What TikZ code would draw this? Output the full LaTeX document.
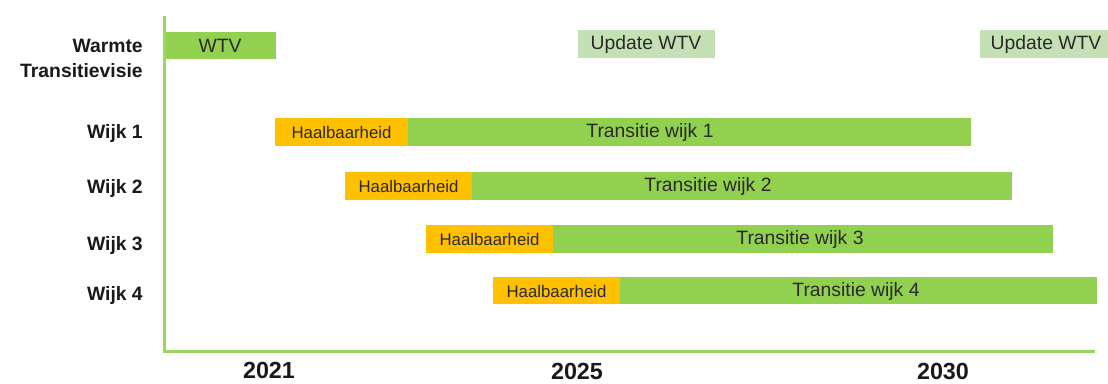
\documentclass[tikz,border=0pt]{standalone}
\usepackage{fontspec}
\setmainfont{Liberation Sans}
\definecolor{gbar}{HTML}{92D050}
\definecolor{obar}{HTML}{FFC000}
\definecolor{lbar}{HTML}{C5E0B4}
\definecolor{axisg}{HTML}{9AD55E}
\definecolor{btxt}{HTML}{2A2A2A}
\begin{document}
\begin{tikzpicture}[x=0.75pt,y=-0.75pt,
  bartext/.style={font=\fontsize{14.5}{16}\selectfont, text=btxt, inner sep=0pt},
  htext/.style={font=\fontsize{12.6}{14}\selectfont, text=btxt, inner sep=0pt},
  rowlabel/.style={font=\bfseries\fontsize{14.5}{17}\selectfont, anchor=base east, inner sep=0pt, text=black!90},
  yearlabel/.style={font=\bfseries\fontsize{17.5}{20}\selectfont, anchor=base, inner sep=0pt, text=black!90},
  axisline/.style={draw=axisg, line width=2.25pt}
]
\useasboundingbox (0,0) rectangle (1108,383);
% bars
\fill[gbar] (164,32) rectangle (276,59);
\fill[lbar] (578,30) rectangle (715,58);
\fill[lbar] (980,30) rectangle (1108,58);
\fill[obar] (275,118) rectangle (408,146);
\fill[gbar] (408,118) rectangle (971,146);
\fill[obar] (345,172) rectangle (472,200);
\fill[gbar] (472,172) rectangle (1012,200);
\fill[obar] (426,225) rectangle (553,253);
\fill[gbar] (553,225) rectangle (1053,253);
\fill[obar] (493,277) rectangle (620,304);
\fill[gbar] (620,277) rectangle (1097,304);
% axes
\coordinate (top) at (164,16);
\coordinate (origin) at (164,351);
\coordinate (right) at (1095,351);
\draw[axisline] (top) -- (origin) -- (right);
% bar texts
\node[bartext] (wtv) at (220,46) {WTV};
\node[bartext] (upd1) at (646,44.5) {Update WTV};
\node[bartext] (upd2) at (1046,44.5) {Update WTV};
\node[htext] (h1) at (341.5,132.5) {Haalbaarheid};
\node[bartext] (t1) at (650,132.5) {Transitie wijk 1};
\node[htext] (h2) at (408.5,186.5) {Haalbaarheid};
\node[bartext] (t2) at (708,186.5) {Transitie wijk 2};
\node[htext] (h3) at (489.5,239.5) {Haalbaarheid};
\node[bartext] (t3) at (800,239.5) {Transitie wijk 3};
\node[htext] (h4) at (556.5,291) {Haalbaarheid};
\node[bartext] (t4) at (856,291) {Transitie wijk 4};
% row labels
\node[rowlabel] (r0a) at (143,52) {Warmte};
\node[rowlabel] (r0b) at (143,77) {Transitievisie};
\node[rowlabel] (r1) at (143,138) {Wijk 1};
\node[rowlabel] (r2) at (143,193) {Wijk 2};
\node[rowlabel] (r3) at (143,250) {Wijk 3};
\node[rowlabel] (r4) at (143,300) {Wijk 4};
% years
\node[yearlabel] (y1) at (269,378) {2021};
\node[yearlabel] (y2) at (577,379) {2025};
\node[yearlabel] (y3) at (943,379.5) {2030};
\end{tikzpicture}
\end{document}
